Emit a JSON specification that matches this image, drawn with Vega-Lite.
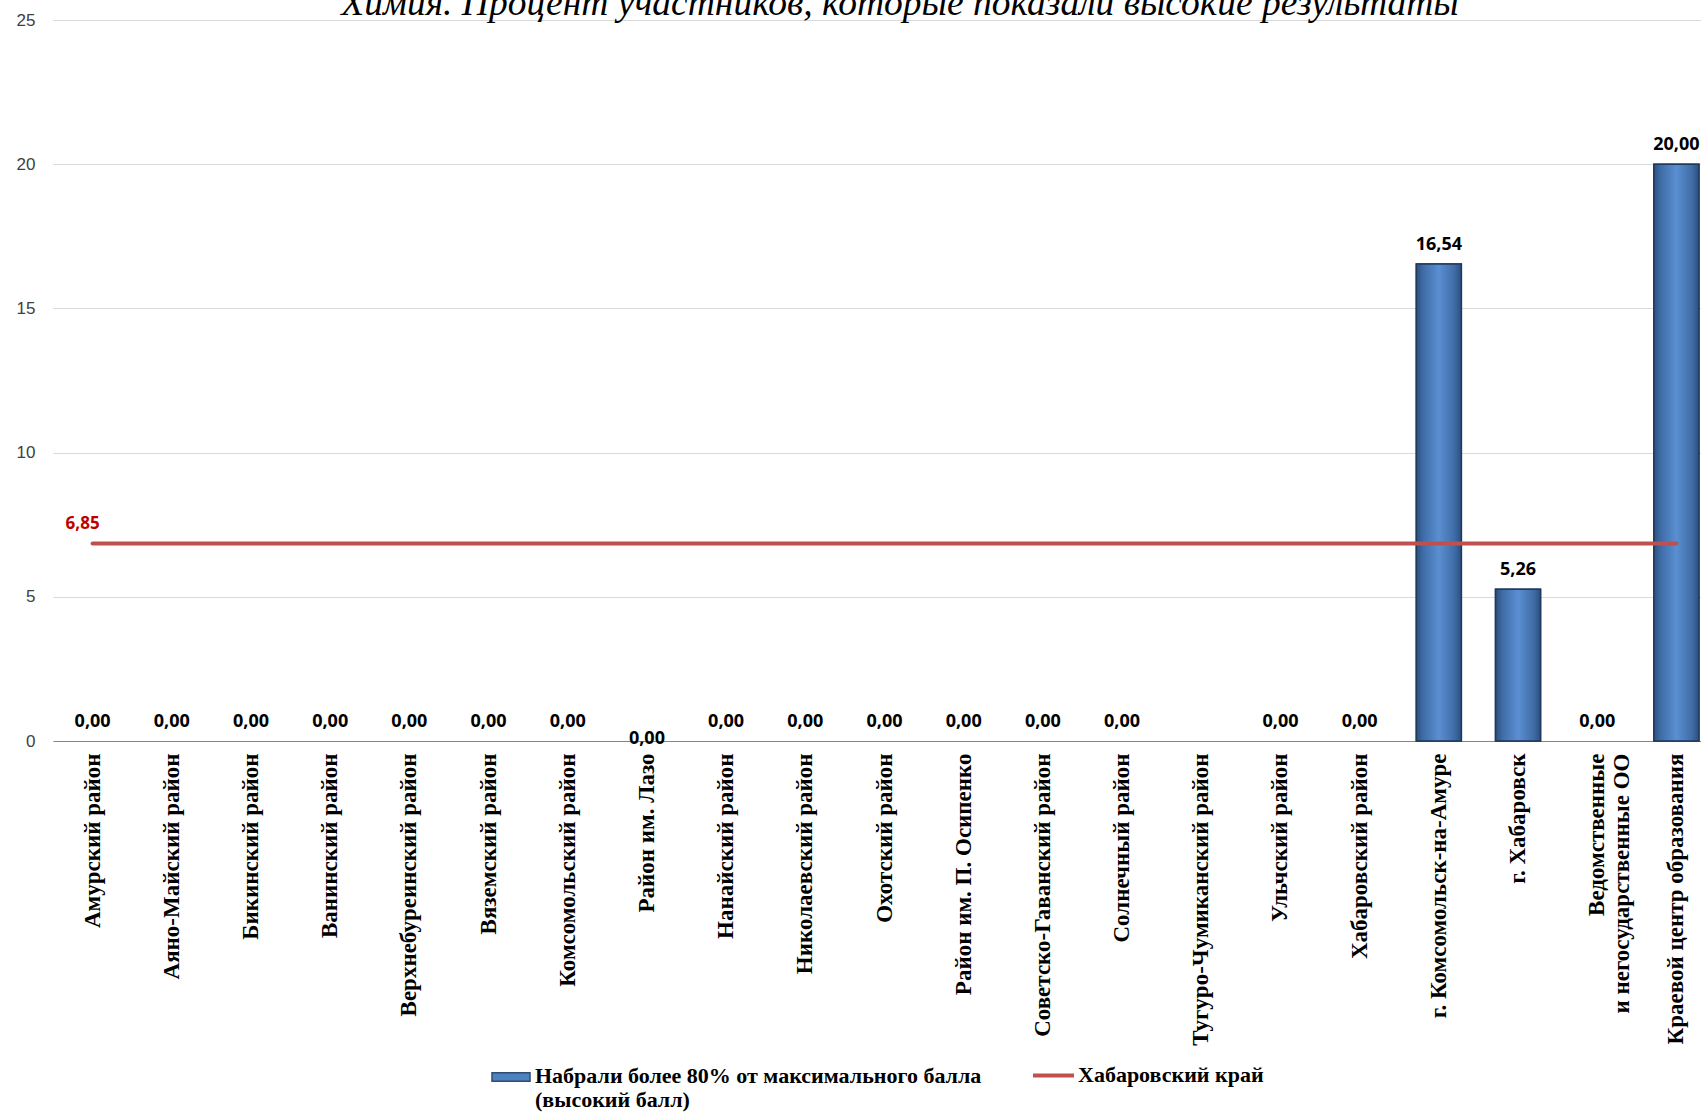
{
  "$schema": "https://vega.github.io/schema/vega-lite/v6.json",
  "autosize": "none",
  "width": 1648,
  "height": 721,
  "padding": {"left": 53, "top": 20, "right": 0, "bottom": 373},
  "background": "white",
  "title": {
    "text": "Химия. Процент участников, которые показали высокие результаты",
    "font": "Liberation Serif",
    "fontStyle": "italic",
    "fontWeight": "normal",
    "fontSize": 37.5,
    "color": "#000000",
    "anchor": "middle",
    "baseline": "alphabetic",
    "offset": -41,
    "dx": 23
  },
  "config": {
    "view": {"stroke": null},
    "locale": {"number": {"decimal": ",", "thousands": " ", "grouping": [3], "currency": ["", ""]}}
  },
  "data": {
    "values": [
      {"cat": "Амурский район", "value": 0, "region": 6.85},
      {"cat": "Аяно-Майский район", "value": 0, "region": 6.85},
      {"cat": "Бикинский район", "value": 0, "region": 6.85},
      {"cat": "Ванинский район", "value": 0, "region": 6.85},
      {"cat": "Верхнебуреинский район", "value": 0, "region": 6.85},
      {"cat": "Вяземский район", "value": 0, "region": 6.85},
      {"cat": "Комсомольский район", "value": 0, "region": 6.85},
      {"cat": "Район им. Лазо", "value": 0, "region": 6.85},
      {"cat": "Нанайский район", "value": 0, "region": 6.85},
      {"cat": "Николаевский район", "value": 0, "region": 6.85},
      {"cat": "Охотский район", "value": 0, "region": 6.85},
      {"cat": "Район им. П. Осипенко", "value": 0, "region": 6.85},
      {"cat": "Советско-Гаванский район", "value": 0, "region": 6.85},
      {"cat": "Солнечный район", "value": 0, "region": 6.85},
      {"cat": "Тугуро-Чумиканский район", "value": null, "region": 6.85},
      {"cat": "Ульчский район", "value": 0, "region": 6.85},
      {"cat": "Хабаровский район", "value": 0, "region": 6.85},
      {"cat": "г. Комсомольск-на-Амуре", "value": 16.54, "region": 6.85},
      {"cat": "г. Хабаровск", "value": 5.26, "region": 6.85},
      {"cat": "Ведомственные|и негосударственные ОО", "value": 0, "region": 6.85},
      {"cat": "Краевой центр образования", "value": 20.0, "region": 6.85}
    ]
  },
  "encoding": {
    "x": {
      "field": "cat",
      "type": "nominal",
      "sort": null,
      "scale": {
        "domain": ["Амурский район", "Аяно-Майский район", "Бикинский район", "Ванинский район", "Верхнебуреинский район", "Вяземский район", "Комсомольский район", "Район им. Лазо", "Нанайский район", "Николаевский район", "Охотский район", "Район им. П. Осипенко", "Советско-Гаванский район", "Солнечный район", "Тугуро-Чумиканский район", "Ульчский район", "Хабаровский район", "г. Комсомольск-на-Амуре", "г. Хабаровск", "Ведомственные|и негосударственные ОО", "Краевой центр образования"],
        "range": [0, 1663],
        "paddingInner": 0,
        "paddingOuter": 0
      },
      "axis": {
        "title": null,
        "labelAngle": -90,
        "labelExpr": "split(datum.label, '|')",
        "labelFont": "Liberation Serif",
        "labelFontWeight": "bold",
        "labelFontSize": 23,
        "labelColor": "#000000",
        "labelPadding": 12,
        "labelLimit": 400,
        "labelLineHeight": 25,
        "ticks": false,
        "domainColor": "#868686",
        "domainWidth": 1,
        "grid": false
      }
    }
  },
  "layer": [
    {
      "mark": {"type": "bar", "width": 45, "stroke": "#1f3a5f", "strokeWidth": 1.5},
      "encoding": {
        "y": {
          "field": "value",
          "type": "quantitative",
          "scale": {"domain": [0, 25], "nice": false},
          "axis": {
            "title": null,
            "values": [0, 5, 10, 15, 20, 25],
            "format": "d",
            "grid": true,
            "gridColor": "#d9d9d9",
            "gridWidth": 1,
            "domain": false,
            "ticks": false,
            "labelFont": "Liberation Sans",
            "labelFontSize": 17,
            "labelColor": "#404040",
            "labelPadding": 18
          }
        },
        "strokeOpacity": {"condition": {"test": "datum.value > 0", "value": 1}, "value": 0},
        "fill": {
          "datum": "Набрали более 80% от максимального балла|(высокий балл)",
          "scale": {"range": ["#4f81bd"]},
          "legend": {
            "title": null,
            "orient": "none",
            "legendX": 438,
            "legendY": 1037,
            "padding": 0,
            "symbolType": "M-1,-0.22L1,-0.22L1,0.22L-1,0.22Z",
            "symbolSize": 1444,
            "symbolStrokeColor": "#2c4d75",
            "symbolStrokeWidth": 1.5,
            "symbolOpacity": 1,
            "labelExpr": "split(datum.label, '|')",
            "labelFont": "Liberation Serif",
            "labelFontWeight": "bold",
            "labelFontSize": 22,
            "labelColor": "#000000",
            "labelLimit": 700,
            "labelOffset": 4,
            "labelBaseline": "alphabetic",
            "labelLineHeight": 25,
            "encode": {"labels": {"update": {"dy": {"value": 6}}}}
          }
        }
      }
    },
    {
      "transform": [{"filter": "datum.value > 0"}],
      "mark": {
        "type": "bar",
        "width": 45,
        "stroke": "#1f3a5f",
        "strokeWidth": 1.5,
        "fill": {
          "gradient": "linear", "x1": 0, "y1": 0, "x2": 1, "y2": 0,
          "stops": [
            {"offset": 0, "color": "#2b507f"},
            {"offset": 0.15, "color": "#3f6ca6"},
            {"offset": 0.5, "color": "#5a8fd2"},
            {"offset": 0.85, "color": "#3f6ca6"},
            {"offset": 1, "color": "#2b507f"}
          ]
        }
      },
      "encoding": {
        "y": {"field": "value", "type": "quantitative"}
      }
    },
    {
      "mark": {"type": "line", "strokeWidth": 4, "strokeCap": "round"},
      "encoding": {
        "y": {"field": "region", "type": "quantitative"},
        "stroke": {
          "datum": "Хабаровский край",
          "scale": {"range": ["#c0504d"]},
          "legend": {
            "title": null,
            "orient": "none",
            "legendX": 978,
            "legendY": 1033,
            "padding": 0,
            "symbolType": "stroke",
            "symbolSize": 1681,
            "symbolStrokeWidth": 4,
            "labelFont": "Liberation Serif",
            "labelFontWeight": "bold",
            "labelFontSize": 22,
            "labelColor": "#000000",
            "labelLimit": 600,
            "labelOffset": 2,
            "labelBaseline": "alphabetic",
            "encode": {"labels": {"update": {"dy": {"value": 6}}}}
          }
        }
      }
    },
    {
      "transform": [{"filter": "datum.cat == 'Амурский район'"}],
      "mark": {"type": "text", "font": "Open Sans", "fontWeight": "bold", "fontSize": 17, "color": "#c00000", "baseline": "alphabetic", "dy": -14, "dx": -10},
      "encoding": {
        "y": {"field": "region", "type": "quantitative"},
        "text": {"field": "region", "type": "quantitative", "format": ".2f"}
      }
    },
    {
      "transform": [{"filter": "datum.value != null && datum.cat != 'Район им. Лазо'"}],
      "mark": {"type": "text", "font": "Open Sans", "fontWeight": "bold", "fontSize": 18, "color": "#000000", "baseline": "alphabetic", "dy": -14},
      "encoding": {
        "y": {"field": "value", "type": "quantitative"},
        "text": {"field": "value", "type": "quantitative", "format": ".2f"}
      }
    },
    {
      "transform": [{"filter": "datum.cat == 'Район им. Лазо'"}],
      "mark": {"type": "text", "font": "Open Sans", "fontWeight": "bold", "fontSize": 18, "color": "#000000", "baseline": "alphabetic", "dy": 3},
      "encoding": {
        "y": {"field": "value", "type": "quantitative"},
        "text": {"field": "value", "type": "quantitative", "format": ".2f"}
      }
    }
  ]
}
